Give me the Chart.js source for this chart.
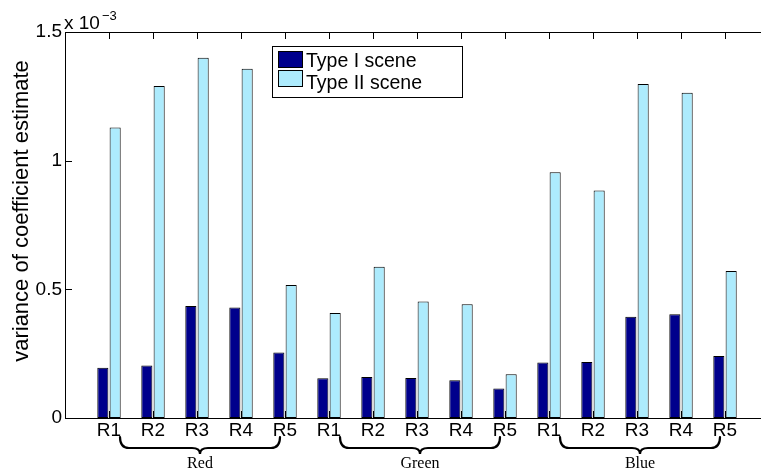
<!DOCTYPE html>
<html>
<head>
<meta charset="utf-8">
<script src="https://cdn.jsdelivr.net/npm/chart.js@4.4.1/dist/chart.umd.min.js"></script>
<style>
    html, body { margin: 0; padding: 0; background: #fff; overflow: hidden; }
    #wrap { width: 780px; height: 476px; }
</style>
</head>
<body>
<div id="wrap"><canvas id="chart" width="780" height="476"></canvas></div>
<script>
// values in units of 10^-3
const categories = ['R1', 'R2', 'R3', 'R4', 'R5', 'R1', 'R2', 'R3', 'R4', 'R5', 'R1', 'R2', 'R3', 'R4', 'R5'];
const groups = ['Red', 'Green', 'Blue'];
const typeOne = [0.195, 0.204, 0.435, 0.429, 0.255, 0.154, 0.159, 0.155, 0.147, 0.115, 0.216, 0.218, 0.393, 0.403, 0.241];
const typeTwo = [1.129, 1.290, 1.400, 1.357, 0.517, 0.408, 0.588, 0.453, 0.442, 0.170, 0.955, 0.884, 1.298, 1.264, 0.571];
const yTicks = [0, 0.5, 1, 1.5];

const SANS = '"Liberation Sans", Arial, Helvetica, sans-serif';
const SERIF = '"Liberation Serif", "DejaVu Serif", serif';

// axis box, inner ticks, legend
const decorPlugin = {
    id: 'decor',
    afterDatasetsDraw(chart) {
        const ctx = chart.ctx;
        const a = chart.chartArea;
        const xs = chart.scales.x;
        const ys = chart.scales.y;
        ctx.save();
        ctx.strokeStyle = '#000';
        ctx.lineWidth = 1;

        // inner ticks
        ctx.beginPath();
        categories.forEach((c, i) => {
            const px = Math.round(xs.getPixelForValue(i + 1)) + 0.5;
            ctx.moveTo(px, a.bottom); ctx.lineTo(px, a.bottom - 7);
            ctx.moveTo(px, a.top); ctx.lineTo(px, a.top + 7);
        });
        yTicks.forEach(v => {
            const py = Math.round(ys.getPixelForValue(v)) + 0.5;
            ctx.moveTo(a.left, py); ctx.lineTo(a.left + 7, py);
            ctx.moveTo(a.right, py); ctx.lineTo(a.right - 7, py);
        });
        ctx.stroke();

        // box
        ctx.strokeRect(Math.round(a.left) + 0.5, Math.round(a.top) + 0.5,
            Math.round(a.right - a.left), Math.round(a.bottom - a.top));

        // legend
        const lx = 272.5, ly = 46.5, lw = 190, lh = 51;
        ctx.fillStyle = '#fff';
        ctx.fillRect(lx, ly, lw, lh);
        ctx.strokeRect(lx, ly, lw, lh);
        ctx.font = '19.5px ' + SANS;
        ctx.textBaseline = 'alphabetic';
        ctx.textAlign = 'left';
        chart.data.datasets.forEach((ds, i) => {
            const sy = 51.5 + i * 19;
            ctx.fillStyle = ds.backgroundColor;
            ctx.fillRect(278.5, sy, 24, 16);
            ctx.strokeRect(278.5, sy, 24, 16);
            ctx.fillStyle = '#000';
            ctx.fillText(ds.label, 306, 67 + i * 22);
        });
        ctx.restore();
    },
    afterDraw(chart) {
        const ctx = chart.ctx;
        const xs = chart.scales.x;
        ctx.save();
        ctx.fillStyle = '#000';

        // y title
        ctx.save();
        ctx.translate(28, 211);
        ctx.rotate(-Math.PI / 2);
        ctx.font = '22px ' + SANS;
        ctx.textAlign = 'center';
        ctx.textBaseline = 'alphabetic';
        ctx.fillText('variance of coefficient estimate', 0, 0);
        ctx.restore();

        // exponent
        ctx.textAlign = 'left';
        ctx.font = '19px ' + SANS;
        ctx.fillText('x 10', 64, 29);
        ctx.font = '13px ' + SANS;
        ctx.fillText('\u22123', 102, 20);

        // braces under each group
        ctx.strokeStyle = '#000';
        ctx.lineWidth = 2.2;
        ctx.lineCap = 'round';
        groups.forEach((g, gi) => {
            const first = gi * 5 + 1;
            const xl = xs.getPixelForValue(first) + 11;
            const xr = xs.getPixelForValue(first + 4) - 5;
            const xc = (xl + xr) / 2;
            const y0 = 437, y1 = 448, y2 = 454;
            ctx.beginPath();
            ctx.moveTo(xl, y0);
            ctx.quadraticCurveTo(xl, y1, xl + 9, y1);
            ctx.lineTo(xc - 8, y1);
            ctx.quadraticCurveTo(xc, y1, xc, y2);
            ctx.quadraticCurveTo(xc, y1, xc + 8, y1);
            ctx.lineTo(xr - 9, y1);
            ctx.quadraticCurveTo(xr, y1, xr, y0);
            ctx.stroke();

            ctx.font = '16px ' + SERIF;
            ctx.textAlign = 'center';
            ctx.fillText(g, xc, 468);
        });
        ctx.restore();
    }
};

new Chart(document.getElementById('chart'), {
    type: 'bar',
    data: {
        datasets: [
            {
                label: 'Type I scene',
                data: typeOne.map((v, i) => ({ x: i + 1, y: v })),
                backgroundColor: 'rgb(0, 0, 140)',
                borderColor: '#000',
                borderWidth: 1,
                borderSkipped: false
            },
            {
                label: 'Type II scene',
                data: typeTwo.map((v, i) => ({ x: i + 1, y: v })),
                backgroundColor: 'rgb(173, 235, 253)',
                borderColor: '#000',
                borderWidth: 1,
                borderSkipped: false
            }
        ]
    },
    options: {
        responsive: false,
        animation: false,
        categoryPercentage: 0.56,
        barPercentage: 0.9,
        layout: { padding: { left: 0, right: 11, top: 32, bottom: 0 } },
        plugins: { legend: { display: false }, tooltip: { enabled: false } },
        scales: {
            x: {
                type: 'linear',
                min: 0,
                max: 16,
                offset: false,
                grid: { display: false, drawTicks: false },
                border: { display: false },
                afterFit: s => { s.height = 58; },
                afterBuildTicks: s => { s.ticks = categories.map((c, i) => ({ value: i + 1 })); },
                ticks: {
                    autoSkip: false,
                    maxRotation: 0,
                    padding: 1,
                    color: '#000',
                    font: { family: SANS, size: 19 },
                    callback: v => categories[v - 1]
                }
            },
            y: {
                min: 0,
                max: 1.5,
                grid: { display: false, drawTicks: false },
                border: { display: false },
                afterFit: s => { s.width = 65; },
                afterBuildTicks: s => { s.ticks = yTicks.map(v => ({ value: v })); },
                ticks: {
                    padding: 3,
                    color: '#000',
                    font: { family: SANS, size: 19 },
                    callback: v => String(v)
                }
            }
        }
    },
    plugins: [decorPlugin]
});
</script>
</body>
</html>
